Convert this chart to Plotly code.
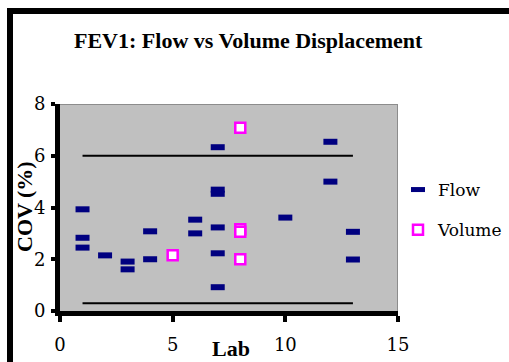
import plotly.graph_objects as go

# Coefficient of variation of FEV1 by lab
flow_lab = [1, 1, 1, 2, 3, 3, 4, 4, 6, 6, 7, 7, 7, 7, 7, 7, 10, 12, 12, 13, 13]
flow_cov = [3.93, 2.83, 2.45, 2.15, 1.91, 1.61, 3.08, 2.0, 3.53, 3.0,
            6.33, 4.69, 4.53, 3.23, 2.23, 0.92, 3.61, 6.54, 5.0, 3.06, 1.99]

volume_lab = [5, 8, 8, 8, 8]
volume_cov = [2.15, 7.08, 3.16, 3.06, 2.0]

# Acceptance limits drawn across labs 1-13
limit_x = [1, 13]
upper_limit = [6, 6]
lower_limit = [0.3, 0.3]

x_ticks = [0, 5, 10, 15]
y_ticks = [0, 2, 4, 6, 8]

W, H = 509, 362
SERIF = "DejaVu Serif"
SERIF_BOLD = "Liberation Serif"


def px(x):
    return x / W


def py(y):
    return 1 - y / H


fig = go.Figure()

fig.add_trace(go.Scatter(x=limit_x, y=upper_limit, mode="lines",
                         line=dict(color="black", width=2),
                         showlegend=False, hoverinfo="skip"))
fig.add_trace(go.Scatter(x=limit_x, y=lower_limit, mode="lines",
                         line=dict(color="black", width=2),
                         showlegend=False, hoverinfo="skip"))

fig.add_trace(go.Scatter(
    x=flow_lab, y=flow_cov, mode="markers", name="Flow",
    legendgroup="flow",
    marker=dict(symbol="line-ew", size=10,
                line=dict(color="#000080", width=6), color="#000080"),
))
fig.add_trace(go.Scatter(
    x=volume_lab, y=volume_cov, mode="markers", name="Volume",
    legendgroup="volume",
    marker=dict(symbol="square", size=10, color="white",
                line=dict(color="#FF00FF", width=2.5)),
))

tick_font = dict(family=SERIF, size=18, color="black")

fig.update_layout(
    width=W, height=H,
    margin=dict(l=0, r=0, t=0, b=0, autoexpand=False),
    font=dict(family=SERIF, size=17, color="black"),
    paper_bgcolor="white",
    plot_bgcolor="#C0C0C0",
    xaxis=dict(
        domain=[px(60), px(398)], range=[0, 15],
        tickvals=x_ticks, ticktext=[str(v) for v in x_ticks],
        showgrid=False, zeroline=False, automargin=False,
        showline=True, linecolor="black", linewidth=5,
        ticks="outside", ticklen=6, tickwidth=4, tickcolor="black",
        tickfont=tick_font, ticklabelstandoff=7,
    ),
    yaxis=dict(
        domain=[py(311), py(104)], range=[0, 8],
        tickvals=y_ticks, ticktext=[str(v) for v in y_ticks],
        showgrid=False, zeroline=False, automargin=False,
        showline=True, linecolor="black", linewidth=5,
        ticks="outside", ticklen=4, tickwidth=4, tickcolor="black",
        tickfont=tick_font, ticklabelstandoff=2,
    ),
    legend=dict(
        x=px(398), y=py(172), xanchor="left", yanchor="top",
        font=dict(family=SERIF, size=17, color="black"),
        bgcolor="rgba(0,0,0,0)", traceorder="grouped", tracegroupgap=15,
        itemwidth=30,
    ),
    showlegend=True,
)

# Thin gray border on the top and right of the plot area
fig.add_shape(type="line", xref="x", yref="y", x0=0, x1=15, y0=8, y1=8,
              line=dict(color="#8c8c8c", width=2))
fig.add_shape(type="line", xref="x", yref="y", x0=15, x1=15, y0=0, y1=8,
              line=dict(color="#8c8c8c", width=2))

# Heavy outer frame of the chart
fig.add_shape(type="rect", xref="paper", yref="paper",
              x0=px(10), x1=px(530), y0=py(11), y1=py(400),
              line=dict(color="black", width=6))

label_font = dict(family=SERIF_BOLD, size=22, color="black", weight="bold")
fig.add_annotation(text="FEV1: Flow vs Volume Displacement",
                   xref="paper", yref="paper", x=px(248), y=py(41),
                   xanchor="center", yanchor="middle",
                   showarrow=False, font=label_font)
fig.add_annotation(text="COV (%)", textangle=-90,
                   xref="paper", yref="paper", x=px(24), y=py(207),
                   xanchor="center", yanchor="middle",
                   showarrow=False, font=label_font)
fig.add_annotation(text="Lab",
                   xref="paper", yref="paper", x=px(231), y=py(348),
                   xanchor="center", yanchor="middle",
                   showarrow=False, font=label_font)

fig.write_html("out.html")
